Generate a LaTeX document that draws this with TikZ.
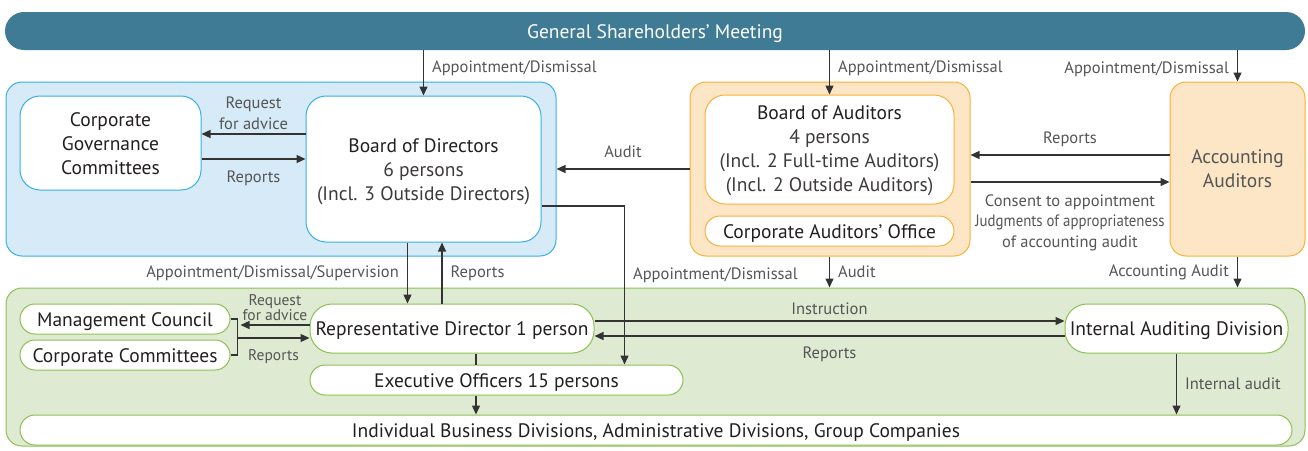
\documentclass[tikz,border=0pt]{standalone}
\usepackage{fontspec}
\usepackage{graphicx}
\setmainfont{PT Sans}
\usetikzlibrary{arrows.meta,calc,positioning}

\definecolor{gsmTeal}{HTML}{3F7B94}
\definecolor{bluFill}{HTML}{D6EBF7}
\definecolor{bluLine}{HTML}{36B0E4}
\definecolor{orgFill}{HTML}{FDE6C6}
\definecolor{orgLine}{HTML}{F7B13A}
\definecolor{grnFill}{HTML}{DFEAD3}
\definecolor{grnLine}{HTML}{8CC152}
\definecolor{txtDark}{HTML}{231F20}
\definecolor{txtSoft}{HTML}{3E3A3B}
\definecolor{txtGray}{HTML}{555555}
\definecolor{lineDark}{HTML}{333333}

\newcommand\mainfnt{\fontsize{19.5}{24}\selectfont}
\newcommand\lblfnt{\fontsize{16.5}{21}\selectfont}
\newcommand\smlfnt{\fontsize{15.5}{14}\selectfont}

\tikzset{
  area/.style={draw, line width=1pt, rounded corners=16pt, inner sep=0pt},
  box/.style={draw, line width=1pt, fill=white, rounded corners=20pt,
    align=center, text=txtDark, font=\mainfnt, inner sep=0pt,
    execute at begin node={\rule{0pt}{18.5pt}}},
  pill/.style={box, rounded corners=15pt, minimum height=30pt},
  lbl/.style={text=txtGray, font=\lblfnt, align=center, inner sep=0pt},
  arr/.style={draw=lineDark, line width=1.3pt, -{Triangle[length=9pt,width=8pt]}},
  link/.style={draw=lineDark, line width=1.3pt}
}

\begin{document}
\begin{tikzpicture}[x=1pt,y=-1pt]
\useasboundingbox (0,0) rectangle (1308,450);

% meeting
\node[fill=gsmTeal, rounded corners=19pt, minimum width=1300pt, minimum height=38pt,
  text=white, font=\mainfnt] (gsm) at (655,31) {\rule{0pt}{19pt}General Shareholders’ Meeting};

% areas
\node[area, draw=bluLine, fill=bluFill, minimum width=550pt, minimum height=174pt] (bluArea) at (281,169) {};
\node[area, draw=orgLine, fill=orgFill, minimum width=280pt, minimum height=174pt] (orgArea) at (830,169) {};
\node[area, draw=orgLine, fill=orgFill, minimum width=135pt, minimum height=174pt,
  text=txtGray, font=\mainfnt, align=center] (aa) at (1237.5,169) {Accounting\\Auditors};
\node[area, draw=grnLine, fill=grnFill, minimum width=1299pt, minimum height=158pt] (grnArea) at (655.5,367) {};

% directors
\node[box, draw=bluLine, minimum width=181pt, minimum height=94pt] (cgc) at (110.5,143) {\rule{0pt}{16pt}Corporate\\Governance\\Committees};
\node[box, draw=bluLine, minimum width=235pt, minimum height=146pt] (bod) at (423.5,169)
  {\rule{0pt}{20pt}Board of Directors\\{\color{txtSoft}6 persons}\\{\color{txtSoft}(Incl. 3 Outside Directors)}};

% auditors
\node[box, draw=orgLine, minimum width=249pt, minimum height=109pt] (boa) at (829.5,149.5)
  {\rule{0pt}{17pt}Board of Auditors\\{\color{txtSoft}4 persons}\\{\color{txtSoft}(Incl. 2 Full-time Auditors)}\\{\color{txtSoft}(Incl. 2 Outside Auditors)}};
\node[pill, draw=orgLine, minimum width=249pt] (cao) at (829.5,231) {Corporate Auditors’ Office};

% execution
\node[pill, draw=grnLine, minimum width=210pt] (mc) at (125,319) {Management Council};
\node[pill, draw=grnLine, minimum width=210pt] (cc) at (125,355) {Corporate Committees};
\node[box, draw=grnLine, rounded corners=22pt, minimum width=284pt, minimum height=49pt] (rd) at (452,328.5) {Representative Director 1 person};
\node[pill, draw=grnLine, minimum width=373pt] (eo) at (496.5,380) {Executive Officers 15 persons};
\node[pill, draw=grnLine, minimum width=1272pt] (ibd) at (656,430) {Individual Business Divisions, Administrative Divisions, Group Companies};
\node[box, draw=grnLine, rounded corners=22pt, minimum width=223pt, minimum height=49pt] (iad) at (1176.5,328.5) {Internal Auditing Division};

% from meeting
\draw[arr] (bod |- gsm.south) -- node[lbl, right=8pt, pos=0.4] {Appointment/Dismissal} (bod.north);
\draw[arr] (boa |- gsm.south) -- node[lbl, right=8pt, pos=0.4] {Appointment/Dismissal} (boa.north);
\draw[arr] (aa |- gsm.south) -- node[lbl, left=8pt, pos=0.6] {Appointment/Dismissal} (aa.north);

% directors <-> committees
\draw[arr] ($(bod.west)+(0,-35)$) coordinate (p) -- node[lbl, above=4pt] {Request\\for advice} (p -| cgc.east);
\draw[arr] ($(cgc.east)+(0,16)$) coordinate (p) -- node[lbl, below=11pt] {Reports} (p -| bod.west);

% auditors
\draw[arr] (orgArea.west) -- node[lbl, above=11pt] {Audit} (bluArea.east);
\draw[arr] ($(aa.west)+(0,-14)$) coordinate (p) -- node[lbl, above=8pt] {Reports} (p -| orgArea.east);
\draw[arr] ($(orgArea.east)+(0,13)$) coordinate (p) -- node[lbl, below=12pt, font=\fontsize{16.5}{20.5}\selectfont]
  {Consent to appointment\\\scalebox{0.9}[1]{Judgments of appropriateness}\\of accounting audit} (p -| aa.west);

% down to execution
\draw[arr] ($(bod.south)+(-16,0)$) coordinate (p) -- node[lbl, left=8pt] {Appointment/Dismissal/Supervision} (p |- rd.north);
\draw[arr] ($(rd.north)+(-10,0)$) coordinate (p) -- node[lbl, right=8pt] {Reports} (p |- bod.south);
\draw[arr] ($(bod.east)+(0,37)$) -| node[lbl, right=8pt, pos=0.72] {Appointment/Dismissal} ($(eo.north east)+(-59,0)$);
\draw[arr] (cao.south |- orgArea.south) -- node[lbl, right=8pt] {Audit} (cao.south |- grnArea.north);
\draw[arr] (aa.south) -- node[lbl, left=8pt] {Accounting Audit} (aa.south |- grnArea.north);

% execution
\draw[link] (mc.east) -- ++(7,0) coordinate (b1) -- (b1 |- cc.east) -- (cc.east);
\draw[arr] ($(rd.west)+(0,-3.5)$) coordinate (p) -- node[lbl, font=\smlfnt, above=4pt] {Request\\for advice} ($(p -| b1)+(3,0)$);
\draw[arr] ($(rd.west)+(0,9.5)$) coordinate (q) (q -| b1) -- node[lbl, font=\smlfnt, below=11pt] {Reports} (q);
\draw[arr] ($(rd.east)+(0,-7.5)$) coordinate (p) -- node[lbl, above=6pt] {Instruction} (p -| iad.west);
\draw[arr] ($(iad.west)+(0,7.5)$) coordinate (p) -- node[lbl, below=10pt] {Reports} (p -| rd.east);
\draw[link] ($(rd.south)+(24,0)$) coordinate (p) -- (p |- eo.north);
\draw[arr] ($(eo.south)+(-20.5,0)$) coordinate (p) -- (p |- ibd.north);
\draw[arr] (iad.south) -- node[lbl, right=8pt] {Internal audit} (iad.south |- ibd.north);
\end{tikzpicture}
\end{document}
